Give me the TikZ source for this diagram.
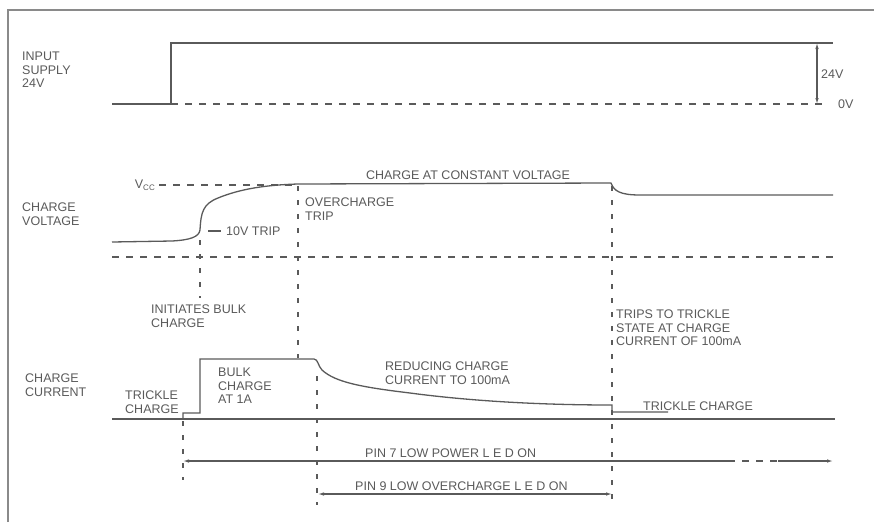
\documentclass[tikz,border=0pt]{standalone}
\usepackage{fontspec}
\setmainfont{Liberation Sans}
\usetikzlibrary{arrows.meta}
\definecolor{ink}{HTML}{5A5A5A}
\definecolor{rim}{HTML}{8A8A8A}

\begin{document}
\begin{tikzpicture}[x=1pt, y=-1pt,
  every node/.style={font=\fontsize{12.5}{13.5}\selectfont, text=ink, inner sep=0pt},
  lab/.style={anchor=west, align=left},
  sig/.style={draw=ink, line width=1.3pt},
  guide/.style={draw=ink, line width=1.1pt, dash pattern=on 7pt off 7pt},
  vguide/.style={draw=ink, line width=1.2pt, dash pattern=on 5pt off 9pt},
  tip/.style={draw=ink, line width=1.1pt, -{Latex[length=6pt,width=3.5pt]}},
  duo/.style={draw=ink, line width=1.1pt, {Latex[length=6pt,width=3.5pt]}-{Latex[length=6pt,width=3.5pt]}}]

\useasboundingbox (0,0) rectangle (874,522);
\draw[rim, line width=1.5pt] (8,522) -- (8,10) -- (874,10);

% input supply
\node[lab] (insup) at (22,70) {INPUT\\SUPPLY\\24V};
\coordinate (rise) at (171,104);
\draw[sig] (112,104) -- (rise) -- (171,43) -- (833,43);
\draw[guide] (rise) -- (825,104);
\coordinate (vtop) at (817,43);
\coordinate (vbot) at (817,104);
\draw[duo] (vbot) -- (vtop);
\node[lab] (v24) at (821,74) {24V};
\node[lab] (v0) at (838,104) {0V};

% charge voltage
\node[lab] (chvolt) at (22,214) {CHARGE\\VOLTAGE};
\node[anchor=east] (vcc) at (155,185) {V\raisebox{-2.5pt}{\fontsize{8}{8}\selectfont CC}};
\draw[guide] (vcc.east) ++(4,0) -- (298,185);
\draw[sig] (112,242) -- (172,241)
  .. controls (190,240) and (199,237) .. (200,230)
  .. controls (201,212) and (203,204) .. (218,198)
  .. controls (240,189) and (265,185) .. (298,184) -- (611,183)
  .. controls (614,191) and (620,195) .. (640,195) -- (833,195);
\node (cvlab) at (468,175) {CHARGE AT CONSTANT VOLTAGE};
\draw[ink, line width=1.1pt] (208,231) -- (221,231);
\node[lab] (trip10) at (226,231) {10V TRIP};
\node[lab] (ovtrip) at (305,209) {OVERCHARGE\\TRIP};
\draw[guide] (112,257) -- (833,257);

% guide lines
\draw[vguide] (200,240) -- (200,298);
\draw[vguide] (298,186) -- (298,358);
\draw[vguide] (612,186) -- (612,503);
\draw[vguide] (317,376) -- (317,505);
\draw[vguide] (183,421) -- (183,480);

% charge current
\node[lab] (initb) at (151,316) {INITIATES BULK\\CHARGE};
\node[lab] (chcur) at (25,385) {CHARGE\\CURRENT};
\node[lab] (trkl) at (125,402) {TRICKLE\\CHARGE};
\node[lab] (bulk) at (218,386) {BULK\\CHARGE\\AT 1A};
\node[lab] (reduce) at (385,373) {REDUCING CHARGE\\CURRENT TO 100mA};
\node[lab] (tripst) at (616,328) {TRIPS TO TRICKLE\\STATE AT CHARGE\\CURRENT OF 100mA};
\node[lab] (trkr) at (643,406) {TRICKLE CHARGE};
\draw[sig] (112,419) -- (835,419);
\draw[sig] (183,419) -- (183,413) -- (200,413) -- (200,359) -- (314,359)
  .. controls (318,359) and (318,366) .. (322,370)
  .. controls (335,382) and (360,387) .. (410,393)
  .. controls (470,401) and (540,405) .. (612,405) -- (612,412) -- (668,412);

% led arrows
\coordinate (p7l) at (183,461);
\coordinate (p7a) at (728,461);
\coordinate (p7b) at (778,461);
\coordinate (p7r) at (833,461);
\draw[tip] (p7a) -- (p7l);
\draw[guide] (p7a) -- (p7b);
\draw[tip] (p7b) -- (p7r);
\node[anchor=south west] (pin7) at (365,458) {PIN 7 LOW POWER L E D ON};
\coordinate (p9l) at (318,494);
\coordinate (p9r) at (612,494);
\draw[duo] (p9l) -- (p9r);
\node[anchor=south west] (pin9) at (355,491) {PIN 9 LOW OVERCHARGE L E D ON};
\end{tikzpicture}
\end{document}
